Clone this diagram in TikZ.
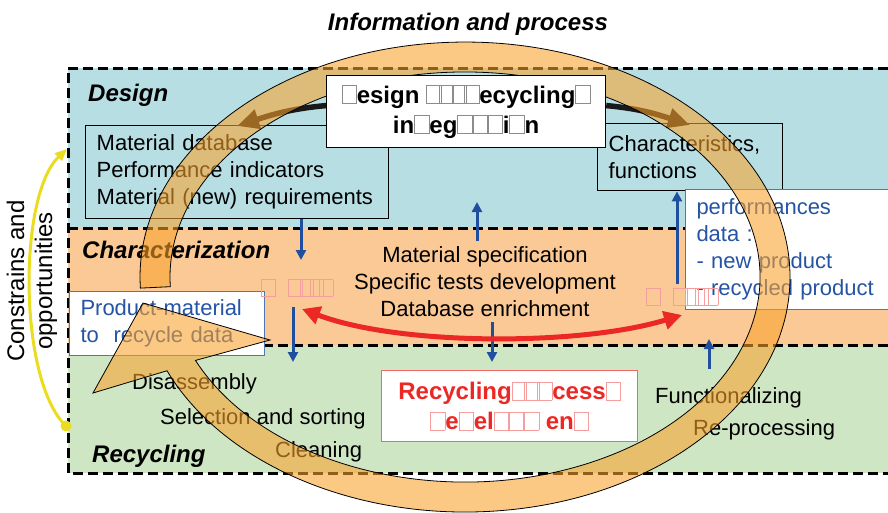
\documentclass[tikz,border=0pt]{standalone}
\usepackage{fontspec}
\setmainfont{Liberation Sans}
\usetikzlibrary{arrows.meta,positioning}
\definecolor{dsgband}{RGB}{183,222,227}
\definecolor{chrband}{RGB}{251,201,150}
\definecolor{rcyband}{RGB}{207,230,197}
\definecolor{infoblue}{RGB}{38,84,164}
\definecolor{arrblue}{RGB}{31,79,158}
\definecolor{rcyred}{RGB}{236,40,36}
\definecolor{loopfill}{RGB}{250,162,45}
\definecolor{cyellow}{RGB}{234,220,30}
\newcommand\gl[1][0.58em]{{\color{.!45}\fboxsep=0pt\fboxrule=0.6pt\fbox{\rule{0pt}{0.74em}\hspace{#1}}}}
\pgfdeclarelayer{top}
\pgfsetlayers{main,top}

\begin{document}
\begin{tikzpicture}[x=1pt,y=-1pt,
  txt/.style={font=\fontsize{22}{27}\selectfont,inner sep=0pt},
  sect/.style={font=\fontsize{24}{28}\selectfont\bfseries\itshape,anchor=west,inner sep=0pt},
  zone/.style={line width=3pt,dash pattern=on 10pt off 5pt},
  infobox/.style={draw,line width=1.4pt,anchor=north west,align=left,inner xsep=11pt,font=\fontsize{22}{27}\selectfont},
  databox/.style={infobox,draw=infoblue!80,line width=1pt,fill=white,text=infoblue},
  bluearrow/.style={arrblue,line width=3pt,-{Triangle[length=10pt,width=10pt]}},
  redarrow/.style={rcyred,line width=5pt,{Triangle[length=18pt,width=18pt]}-{Triangle[length=18pt,width=18pt]}},
  dsgarrow/.style={black!90,line width=5.5pt,-{Triangle[length=22pt,width=19pt]}},
  loopband/.style={fill=loopfill,fill opacity=0.58,draw=black,line width=0.8pt}]
\useasboundingbox (0,0) rectangle (888,512);
\fill[dsgband] (68,68) rectangle (888,228);
\fill[chrband] (68,228) rectangle (888,345);
\fill[rcyband] (68,345) rectangle (888,473);
\draw[zone] (888,68) -- (68,68) -- (68,473) -- (888,473);
\draw[zone] (68,228) -- (888,228);
\draw[zone] (68,345) -- (888,345);

\node[font=\fontsize{24}{28}\selectfont\bfseries\itshape] (info) at (468,24) {Information and process};
\node[sect] (dsg) at (88,95) {Design};
\node[sect] (chr) at (82,250) {Characterization};
\node[sect] (rcy) at (92,456) {Recycling};

\node[infobox,text width=281pt,minimum height=93pt] (matdb) at (85,125) {Material database\\Performance indicators\\Material (new) requirements};
\node[infobox,text width=163pt,minimum height=67pt] (charf) at (597,123) {Characteristics,\\functions};
\node[databox,text width=193pt,minimum height=120pt] (perf) at (685,189) {performances\\data :\\- new product\\- recycled product};
\node[databox,text width=173pt,minimum height=64pt] (prod) at (69,291) {Product-material\\to~ recycle data};

\node[txt,align=center] (spec) at (485,282) {Material specification\\Specific tests development\\Database enrichment};
\node[txt,anchor=west] (dis) at (132,384) {Disassembly};
\node[txt,anchor=west] (sel) at (160,419) {Selection and sorting};
\node[txt,anchor=west] (cln) at (275,452) {Cleaning};
\node[txt,anchor=west] (fun) at (655,398) {Functionalizing};
\node[txt,anchor=west] (rep) at (693,430) {Re-processing};
\node[txt,text=rcyred] (gapl) at (297,288) {\gl[0.62em]\ \ \gl[0.62em]\kern-.12em\gl\kern-.2em\gl\kern-.2em\gl};
\node[txt,text=rcyred] (gapr) at (682,297) {\gl[0.62em]\ \ \gl[0.62em]\kern-.12em\gl\kern-.2em\gl\kern-.2em\gl};

\node[draw=rcyred!70,line width=1.2pt,fill=white,anchor=north west,minimum width=256pt,minimum height=71pt,align=center,text=rcyred,font=\fontsize{24}{30}\selectfont\bfseries] (rproc) at (381,370) {Recycling\gl\kern-.1em\gl\kern-.1em\gl cess\gl\\\gl e\gl el\gl\gl\gl\ en\gl};

\begin{pgfonlayer}{top}
\node[draw,line width=1.2pt,fill=white,anchor=north west,minimum width=279pt,minimum height=72pt,align=center,font=\fontsize{24}{30}\selectfont\bfseries] (dfr) at (326,75) {\gl esign \gl\kern-.1em\gl\kern-.1em\gl\kern-.1em\gl ecycling\gl\\in\gl eg\gl\gl\gl i\gl n};
\end{pgfonlayer}

\coordinate (a1) at (301,260);
\draw[bluearrow] (matdb.south -| a1) -- (a1);
\coordinate (a2s) at (293,307);
\coordinate (a2e) at (293,362);
\draw[bluearrow] (a2s) -- (a2e);
\coordinate (a3s) at (477,241);
\coordinate (a3e) at (477,202);
\draw[bluearrow] (a3s) -- (a3e);
\coordinate (a4s) at (492,322);
\draw[bluearrow,shorten >=8pt] (a4s) -- (a4s |- rproc.north);
\coordinate (a5) at (677,284);
\draw[bluearrow] (a5) -- (a5 |- charf.south);
\coordinate (a6s) at (709,369);
\coordinate (a6e) at (709,339);
\draw[bluearrow] (a6s) -- (a6e);

\coordinate (rl) at (302,309);
\coordinate (rr) at (682,315);
\draw[redarrow] (rl) .. controls (400,346) and (580,346) .. (rr);

\coordinate (dl) at (237,126);
\coordinate (dr) at (690,125);
\draw[dsgarrow] ([yshift=6pt]dfr.west) to[out=185,in=18] (dl);
\draw[dsgarrow] ([yshift=6pt]dfr.east) to[out=-5,in=162] (dr);

\draw[loopband] (140.4,288.1) arc[start angle=177.3,end angle=516.5,x radius=325,y radius=235] -- (93,393) -- (143,303) -- (270,340) -- (195.5,360.4) arc[start angle=516,end angle=177.3,x radius=295,y radius=205] -- cycle;

\coordinate (cdot) at (66,426);
\coordinate (ctip) at (67,149);
\draw[cyellow,line width=3pt,-{Triangle[length=12pt,width=10pt]}] (cdot) .. controls (18,380) and (18,195) .. (ctip);
\fill[cyellow] (cdot) circle[radius=5.5];
\node[rotate=90,align=center,font=\fontsize{24}{28}\selectfont] (cons) at (32,281) {Constrains and\\opportunities};
\end{tikzpicture}
\end{document}
